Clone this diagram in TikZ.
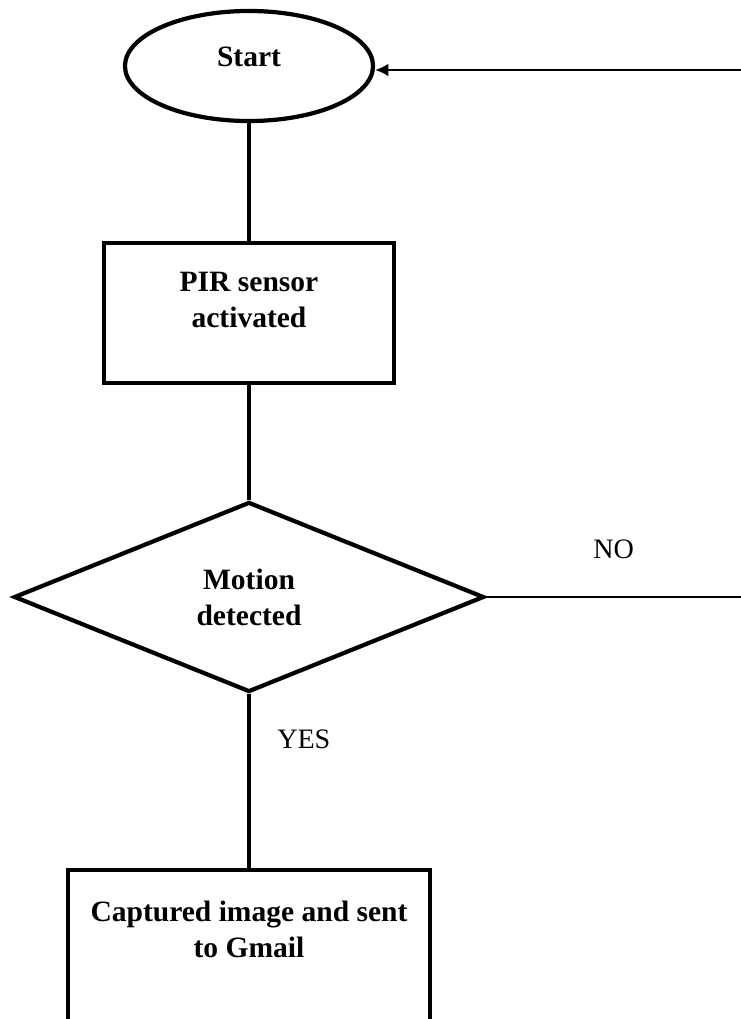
\documentclass[tikz,border=0pt]{standalone}
\usepackage{fontspec}
\setmainfont{Liberation Serif}
\usetikzlibrary{shapes.geometric,arrows.meta}

\begin{document}
\begin{tikzpicture}[x=0.025cm, y=-0.025cm,
		every node/.style={font=\fontsize{21}{25.6}\selectfont\bfseries, align=center},
		blk/.style={draw, line width=3pt},
		lbl/.style={font=\fontsize{20}{24}\selectfont}]
	\path[use as bounding box, clip] (0,0) rectangle (741,1019);
	\node[blk, ellipse, minimum width=6.2cm, minimum height=2.75cm] (start) at (249,66) {Start\\[-0.45cm]};
	\node[blk, rectangle, minimum width=7.23cm, minimum height=3.5cm] (pir) at (249,313) {PIR sensor\\activated\\[-0.25cm]};
	\node[blk, diamond, minimum width=11.75cm, minimum height=4.75cm, inner sep=0pt] (motion) at (249,597) {Motion\\detected};
	\node[blk, rectangle, minimum width=9.03cm, minimum height=4.75cm] (gmail) at (249,965) {Captured image and sent\\to Gmail\\[0.9cm]};
	\coordinate (r1) at (741,70);
	\coordinate (r2) at (741,597);
	\path[line width=3pt]
		(start) edge (pir)
		(pir) edge (motion)
		(motion) edge node[lbl, pos=0.26, xshift=1.37cm] {YES} (gmail);
	\path[line width=1.5pt]
		(r1) edge[-{Latex[length=0.33cm, width=0.32cm]}] (r1 -| start.east)
		(motion) edge node[lbl, pos=0.5, yshift=1.18cm] {NO} (r2);
\end{tikzpicture}
\end{document}
